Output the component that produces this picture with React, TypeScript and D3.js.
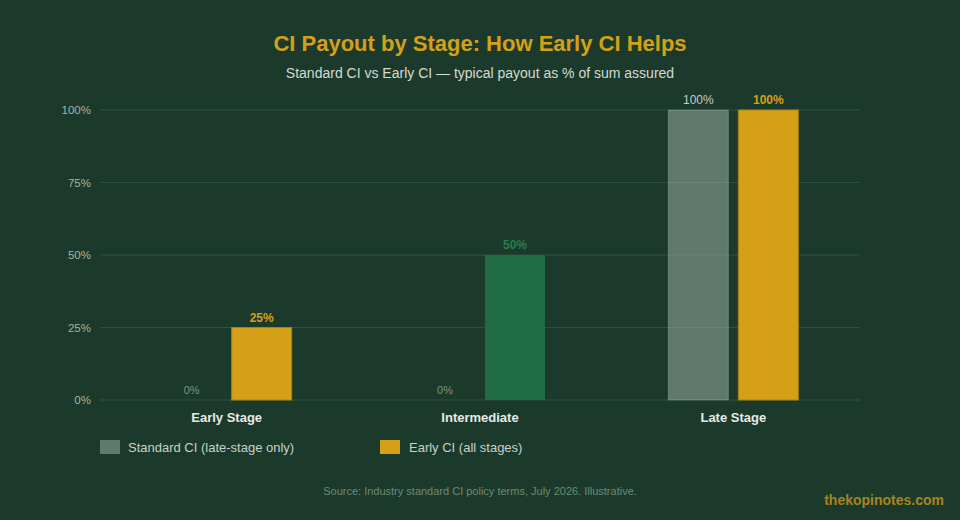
import React from "react";
import * as d3 from "d3";

const categories = ["Early Stage", "Intermediate", "Late Stage"];
const seriesNames = ["Standard CI (late-stage only)", "Early CI (all stages)"];
const standardValues = [0, 0, 100];
const earlyValues = [25, 50, 100];
const yTicks = [0, 25, 50, 75, 100];

const W = 960, H = 520;
const BG = "#1c3a2b";
const GOLD = "#d4a017";
const GREEN = "#1f6b42";
const FONT = "'Liberation Sans', Arial, Helvetica, sans-serif";

export default function App() {
  const x0 = d3.scaleBand<string>().domain(categories).range([100, 860]).padding(0);
  const x1 = d3.scaleBand<string>().domain(["std", "early"]).range([0, 130]).paddingInner(1 / 7);
  const y = d3.scaleLinear().domain([0, 100]).range([400, 110]);
  const off = (x0.bandwidth() - 130) / 2;
  const bw = x1.bandwidth();

  return (
    <svg width={W} height={H} style={{ display: "block", position: "absolute", left: 0, top: 0 }} fontFamily={FONT}>
      <rect width={W} height={H} fill={BG} />
      <text x={480} y={51} textAnchor="middle" fontSize={22} fontWeight="bold" fill={GOLD}>CI Payout by Stage: How Early CI Helps</text>
      <text x={480} y={78} textAnchor="middle" fontSize={14} fill="#d3dbd4">Standard CI vs Early CI — typical payout as % of sum assured</text>
      {yTicks.map((t) => (
        <g key={t}>
          <line x1={100} x2={860} y1={y(t)} y2={y(t)} stroke="#2e5040" strokeWidth={1} />
          <text x={91} y={y(t) + 4} textAnchor="end" fontSize={11.5} fill="#a3b3a8">{t}%</text>
        </g>
      ))}
      {categories.map((c, i) => {
        const gx = (x0(c) as number) + off;
        const sx = gx + (x1("std") as number);
        const ex = gx + (x1("early") as number);
        const sv = standardValues[i];
        const ev = earlyValues[i];
        const eColor = c === "Intermediate" ? GREEN : GOLD;
        const eLabel = c === "Intermediate" ? "#2a7d4c" : GOLD;
        return (
          <g key={c}>
            {sv > 0 && (
              <rect x={sx} y={y(sv)} width={bw} height={y(0) - y(sv)} fill="rgba(162,186,173,0.5)" stroke="rgba(170,195,180,0.35)" strokeWidth={1} />
            )}
            <text x={sx + bw / 2} y={y(sv) - 6} textAnchor="middle" fontSize={sv > 0 ? 12 : 11} fill={sv > 0 ? "#c3ccc5" : "#7f9587"}>{sv}%</text>
            <rect x={ex} y={y(ev)} width={bw} height={y(0) - y(ev)} fill={eColor} stroke={c === "Intermediate" ? "none" : "#a88218"} strokeWidth={1} />
            <text x={ex + bw / 2} y={y(ev) - 6} textAnchor="middle" fontSize={12} fontWeight="bold" fill={eLabel}>{ev}%</text>
            <text x={(x0(c) as number) + x0.bandwidth() / 2} y={422} textAnchor="middle" fontSize={13} fontWeight="bold" fill="#e6ebe6">{c}</text>
          </g>
        );
      })}
      <rect x={100} y={440} width={20} height={14} fill="#5f7a6c" />
      <text x={128} y={452} fontSize={13} fill="#c8d1ca">{seriesNames[0]}</text>
      <rect x={380} y={440} width={20} height={14} fill={GOLD} />
      <text x={409} y={452} fontSize={13} fill="#c8d1ca">{seriesNames[1]}</text>
      <text x={480} y={495} textAnchor="middle" fontSize={11} fill="#6f8a78">Source: Industry standard CI policy terms, July 2026. Illustrative.</text>
      <text x={944} y={505} textAnchor="end" fontSize={14} fontWeight="bold" fill="#a5851f">thekopinotes.com</text>
    </svg>
  );
}
